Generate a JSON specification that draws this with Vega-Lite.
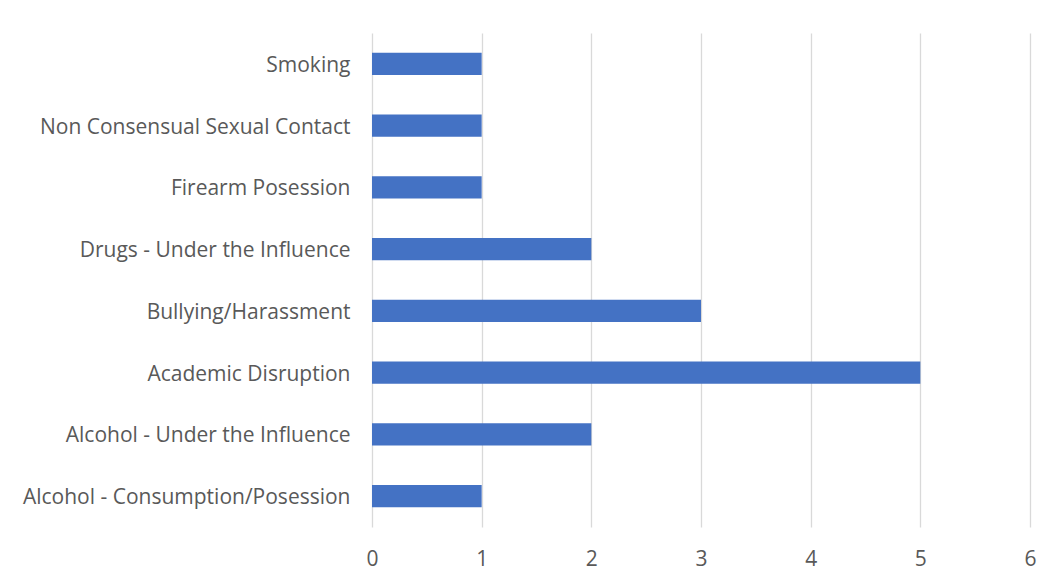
{
  "$schema": "https://vega.github.io/schema/vega-lite/v6.json",
  "autosize": "none",
  "width": 658,
  "height": 494,
  "padding": {"left": 372, "top": 33, "right": 25, "bottom": 60},
  "background": "white",
  "config": {
    "view": {"stroke": null},
    "font": "Open Sans"
  },
  "data": {
    "values": [
      {"category": "Smoking", "count": 1},
      {"category": "Non Consensual Sexual Contact", "count": 1},
      {"category": "Firearm Posession", "count": 1},
      {"category": "Drugs - Under the Influence", "count": 2},
      {"category": "Bullying/Harassment", "count": 3},
      {"category": "Academic Disruption", "count": 5},
      {"category": "Alcohol - Under the Influence", "count": 2},
      {"category": "Alcohol - Consumption/Posession", "count": 1}
    ]
  },
  "mark": {"type": "bar", "color": "#4472c4"},
  "encoding": {
    "y": {
      "field": "category",
      "type": "nominal",
      "sort": null,
      "scale": {"paddingInner": 0.64, "paddingOuter": 0.32},
      "axis": {
        "title": null,
        "domain": false,
        "ticks": false,
        "labelPadding": 22,
        "labelOffset": 2,
        "labelFontSize": 21,
        "labelColor": "#595959",
        "labelFont": "Open Sans",
        "labelLimit": 400
      }
    },
    "x": {
      "field": "count",
      "type": "quantitative",
      "scale": {"domain": [0, 6], "nice": false},
      "axis": {
        "title": null,
        "values": [0, 1, 2, 3, 4, 5, 6],
        "domain": false,
        "ticks": false,
        "grid": true,
        "gridColor": "#d9d9d9",
        "gridWidth": 1.3,
        "labelPadding": 21,
        "labelFontSize": 21,
        "labelColor": "#595959",
        "labelFont": "Open Sans",
        "labelFlush": false
      }
    }
  }
}
